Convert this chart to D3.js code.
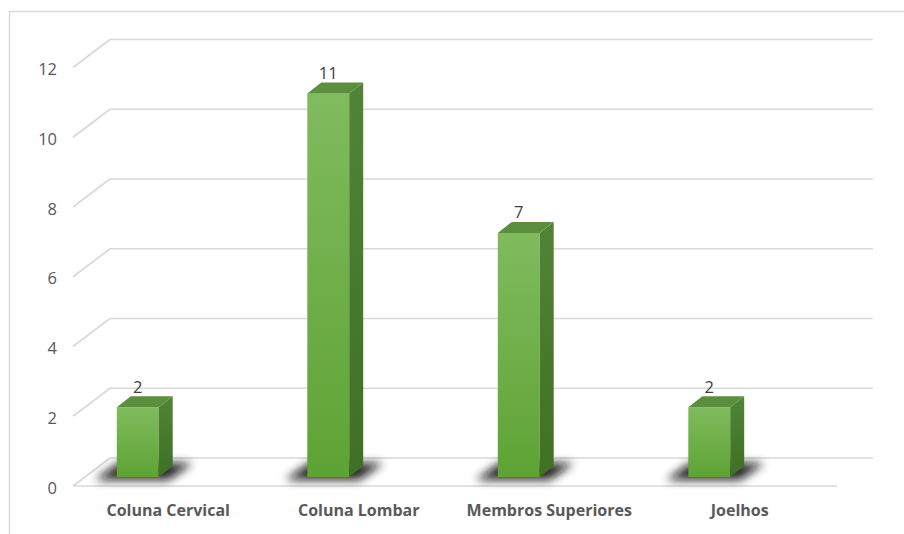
<!DOCTYPE html>
<html>
<head>
<meta charset="utf-8">
<script src="https://cdn.jsdelivr.net/npm/d3@7"></script>
<style>
  html, body { margin: 0; padding: 0; background: #fff; }
  svg { display: block; }
</style>
</head>
<body>
<svg id="chart" width="904" height="534"></svg>
<script>
// Data
const categories = ["Coluna Cervical", "Coluna Lombar", "Membros Superiores", "Joelhos"];
const values = [2, 11, 7, 2];
const yTicks = [0, 2, 4, 6, 8, 10, 12];

const svg = d3.select("#chart");

// 3D frame geometry: front plane of floor and depth vector to back wall
const front = { x0: 73, x1: 835 };
const depth = { dx: 37, dy: -28 };
const barDepth = { dx: 14, dy: -11 };
const barPlane = { dx: 12, dy: -9 };   // bar front faces sit a third of the way into the floor

const y = d3.scaleLinear().domain([0, 12]).range([486, 67.5]);
const x = d3.scaleBand().domain(categories).range([front.x0, front.x1]).paddingInner(0).paddingOuter(0);
const barW = x.bandwidth() * 0.22;
const barShift = -30.5; // oblique view shifts the bars left of their floor band centres

const font = "'Open Sans', 'Liberation Sans', sans-serif";
const gridColor = "#d9d9d9";

// Outer chart border
svg.append("rect")
  .attr("x", 9.5).attr("y", 11.5)
  .attr("width", 1000).attr("height", 1000)
  .attr("fill", "none").attr("stroke", gridColor).attr("stroke-width", 1.5);

// Gridlines: back wall horizontals + left side diagonals
const grid = svg.append("g").attr("stroke", gridColor).attr("stroke-width", 1.7).attr("fill", "none");
yTicks.forEach(v => {
  const yf = y(v), yb = y(v) + depth.dy;
  grid.append("line")
    .attr("x1", front.x0 + depth.dx).attr("x2", front.x1 + depth.dx + 1)
    .attr("y1", yb).attr("y2", yb);
  grid.append("line")
    .attr("x1", front.x0).attr("y1", yf)
    .attr("x2", front.x0 + depth.dx).attr("y2", yb);
});
// Floor front edge
grid.append("line")
  .attr("x1", front.x0).attr("x2", front.x1 + 2)
  .attr("y1", y(0)).attr("y2", y(0));

// Y tick labels
svg.append("g").selectAll("text").data(yTicks).join("text")
  .attr("x", 57).attr("y", d => y(d) + 7.5)
  .attr("text-anchor", "end")
  .attr("font-family", font).attr("font-size", 16.5)
  .attr("fill", "#595959")
  .text(d => d);

// Gradients and shadow filter
const defs = svg.append("defs");
const gFront = defs.append("linearGradient").attr("id", "gFront").attr("x1", 0).attr("y1", 0).attr("x2", 0).attr("y2", 1);
gFront.append("stop").attr("offset", "0%").attr("stop-color", "#80bb5e");
gFront.append("stop").attr("offset", "100%").attr("stop-color", "#5ea335");
const gSide = defs.append("linearGradient").attr("id", "gSide").attr("x1", 0).attr("y1", 0).attr("x2", 0).attr("y2", 1);
gSide.append("stop").attr("offset", "0%").attr("stop-color", "#518437");
gSide.append("stop").attr("offset", "100%").attr("stop-color", "#3f7025");
const blur = defs.append("filter").attr("id", "shadowBlur")
  .attr("x", "-50%").attr("y", "-100%").attr("width", "200%").attr("height", "300%");
blur.append("feGaussianBlur").attr("stdDeviation", 5);

const baseY = v => y(v) + barPlane.dy;
const barX = c => x(c) + x.bandwidth() / 2 + barShift - barW / 2;

const bars = svg.append("g").selectAll("g").data(categories.map((c, i) => ({ c, v: values[i] }))).join("g");

// Soft floor shadow under each bar
bars.append("path")
  .attr("d", d => {
    const x0 = barX(d.c), yb = baseY(0);
    return `M${x0 - 22},${yb + 3} L${x0 + barW + 10},${yb + 3} L${x0 + barW + 34},${yb - 14} L${x0 + 2},${yb - 14} Z`;
  })
  .attr("fill", "#111").attr("opacity", 0.9)
  .attr("filter", "url(#shadowBlur)");

// Front face
bars.append("rect")
  .attr("x", d => barX(d.c))
  .attr("y", d => baseY(d.v))
  .attr("width", barW)
  .attr("height", d => baseY(0) - baseY(d.v))
  .attr("fill", "url(#gFront)");

// Side face
bars.append("path")
  .attr("d", d => {
    const x1 = barX(d.c) + barW, yt = baseY(d.v), yb = baseY(0);
    return `M${x1},${yt} L${x1 + barDepth.dx},${yt + barDepth.dy} L${x1 + barDepth.dx},${yb + barDepth.dy} L${x1},${yb} Z`;
  })
  .attr("fill", "url(#gSide)");

// Top face
bars.append("path")
  .attr("d", d => {
    const x0 = barX(d.c), yt = baseY(d.v);
    return `M${x0},${yt} L${x0 + barDepth.dx},${yt + barDepth.dy} L${x0 + barW + barDepth.dx},${yt + barDepth.dy} L${x0 + barW},${yt} Z`;
  })
  .attr("fill", "#5b8e3d");

// Value labels
bars.append("text")
  .attr("x", d => barX(d.c) + barW / 2)
  .attr("y", d => baseY(d.v) + barDepth.dy - 3.5)
  .attr("text-anchor", "middle")
  .attr("font-family", font).attr("font-size", 16.5)
  .attr("fill", "#404040")
  .text(d => d.v);

// Category labels
svg.append("g").selectAll("text").data(categories).join("text")
  .attr("x", d => x(d) + x.bandwidth() / 2)
  .attr("y", 516)
  .attr("text-anchor", "middle")
  .attr("font-family", font).attr("font-size", 16).attr("font-weight", "bold")
  .attr("fill", "#595959")
  .text(d => d);
</script>
</body>
</html>
